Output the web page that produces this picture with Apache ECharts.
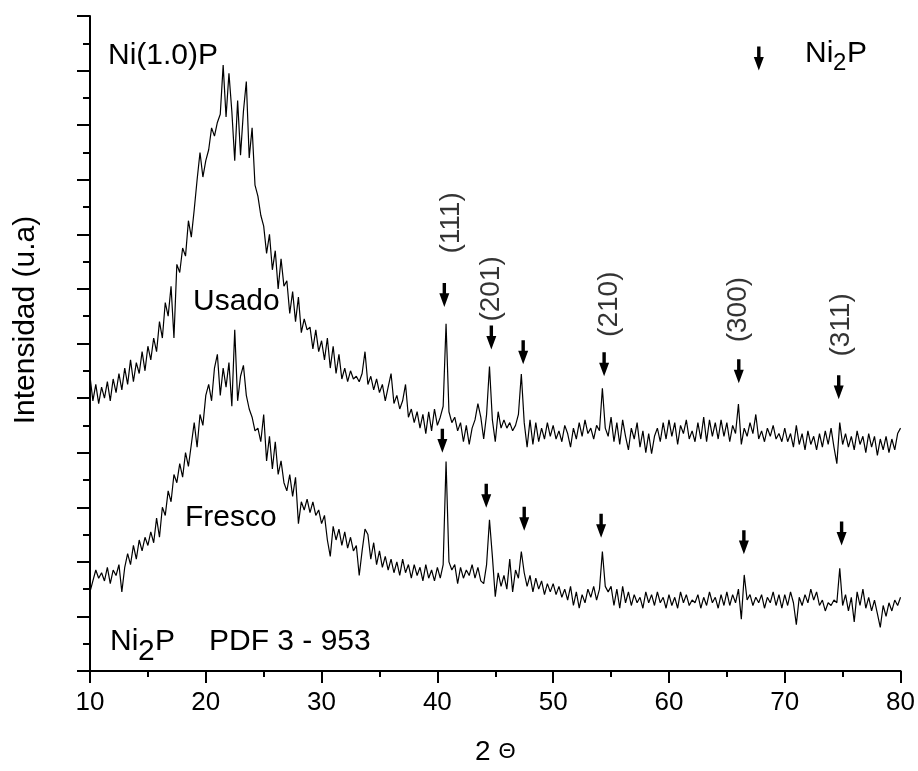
<!DOCTYPE html>
<html>
<head>
<meta charset="utf-8">
<script src="https://cdn.jsdelivr.net/npm/echarts@6/dist/echarts.min.js"></script>
<style>html,body{margin:0;padding:0;background:#fff}#chart{width:918px;height:771px}</style>
</head>
<body>
<div id="chart"></div>
<script>
// 2θ grid (degrees)
const twoTheta = [
10,10.25,10.5,10.75,11,11.25,11.5,11.75,12,12.25,12.5,12.75,13,13.25,13.5,13.75,14,14.25,14.5,14.75,
15,15.25,15.5,15.75,16,16.25,16.5,16.75,17,17.25,17.5,17.75,18,18.25,18.5,18.75,19,19.25,19.5,19.75,
20,20.25,20.5,20.75,21,21.25,21.5,21.75,22,22.25,22.5,22.75,23,23.25,23.5,23.75,24,24.25,24.5,24.75,
25,25.25,25.5,25.75,26,26.25,26.5,26.75,27,27.25,27.5,27.75,28,28.25,28.5,28.75,29,29.25,29.5,29.75,
30,30.25,30.5,30.75,31,31.25,31.5,31.75,32,32.25,32.5,32.75,33,33.25,33.5,33.75,34,34.25,34.5,34.75,
35,35.25,35.5,35.75,36,36.25,36.5,36.75,37,37.25,37.5,37.75,38,38.25,38.5,38.75,39,39.25,39.5,39.75,
40,40.25,40.5,40.75,41,41.25,41.5,41.75,42,42.25,42.5,42.75,43,43.25,43.5,43.75,44,44.25,44.5,44.75,
45,45.25,45.5,45.75,46,46.25,46.5,46.75,47,47.25,47.5,47.75,48,48.25,48.5,48.75,49,49.25,49.5,49.75,
50,50.25,50.5,50.75,51,51.25,51.5,51.75,52,52.25,52.5,52.75,53,53.25,53.5,53.75,54,54.25,54.5,54.75,
55,55.25,55.5,55.75,56,56.25,56.5,56.75,57,57.25,57.5,57.75,58,58.25,58.5,58.75,59,59.25,59.5,59.75,
60,60.25,60.5,60.75,61,61.25,61.5,61.75,62,62.25,62.5,62.75,63,63.25,63.5,63.75,64,64.25,64.5,64.75,
65,65.25,65.5,65.75,66,66.25,66.5,66.75,67,67.25,67.5,67.75,68,68.25,68.5,68.75,69,69.25,69.5,69.75,
70,70.25,70.5,70.75,71,71.25,71.5,71.75,72,72.25,72.5,72.75,73,73.25,73.5,73.75,74,74.25,74.5,74.75,
75,75.25,75.5,75.75,76,76.25,76.5,76.75,77,77.25,77.5,77.75,78,78.25,78.5,78.75,79,79.25,79.5,79.75,
80];

// Intensity (arbitrary units), "Usado" pattern
const usado = [
5.40,4.95,5.25,4.90,5.20,5.00,5.30,4.95,5.35,5.10,5.45,5.15,5.55,5.25,5.70,5.30,5.65,5.45,5.85,5.50,
5.95,5.70,6.10,5.85,6.40,6.10,6.75,6.50,7.05,6.10,7.45,7.30,7.75,7.60,8.25,7.95,8.45,9.00,9.50,9.05,
9.35,9.55,9.95,9.80,10.05,10.20,11.10,10.15,10.95,10.25,9.35,10.45,9.45,10.25,10.80,9.40,9.95,8.90,8.70,8.35,
8.15,7.65,8.00,7.35,7.70,7.00,7.55,7.05,7.15,6.55,6.95,6.40,6.85,6.20,6.45,6.25,6.30,5.90,6.25,5.85,
6.05,5.70,6.10,5.55,5.95,5.45,5.80,5.35,5.55,5.30,5.50,5.35,5.40,5.30,5.45,5.85,5.25,5.40,5.15,5.35,
5.10,5.25,4.95,5.20,5.45,4.90,5.05,4.80,4.95,5.25,4.65,4.80,4.55,4.75,4.45,4.70,4.35,4.75,4.40,4.80,
4.50,4.65,4.85,6.36,4.75,4.55,4.65,4.40,4.55,4.20,4.50,4.15,4.45,4.60,4.90,4.65,4.25,4.70,5.58,4.60,
4.20,4.75,4.45,4.60,4.45,4.55,4.40,4.50,4.70,5.44,4.55,4.10,4.60,4.15,4.55,4.20,4.45,4.25,4.55,4.30,
4.50,4.25,4.40,4.20,4.50,4.35,4.10,4.45,4.25,4.55,4.30,4.60,4.35,4.45,4.25,4.50,4.40,5.18,4.45,4.30,
4.65,4.20,4.55,4.15,4.60,4.30,4.05,4.45,4.25,4.55,4.10,4.40,4.00,4.35,3.98,4.30,4.45,4.20,4.55,4.25,
4.60,4.30,4.55,4.15,4.50,4.35,4.60,4.25,4.40,4.20,4.55,4.25,4.65,4.20,4.60,4.30,4.55,4.25,4.60,4.30,
4.55,4.20,4.50,4.35,4.89,4.15,4.45,4.30,4.55,4.35,4.70,4.25,4.40,4.20,4.45,4.30,4.50,4.25,4.35,4.20,
4.45,4.20,4.35,4.10,4.50,4.15,4.35,4.05,4.40,4.15,4.30,4.05,4.35,4.10,4.40,4.15,4.45,4.10,3.80,4.55,
4.15,4.35,4.10,4.30,4.05,4.40,4.15,4.30,4.00,4.35,4.10,4.30,3.95,4.25,4.05,4.30,4.00,4.25,4.05,4.35,
4.45];

// Intensity (arbitrary units), "Fresco" pattern
const fresco = [
1.45,1.65,1.85,1.70,1.80,1.65,1.90,1.60,1.85,1.75,1.95,1.45,1.90,2.15,1.95,2.30,2.05,2.40,2.20,2.45,
2.30,2.55,2.35,2.80,2.45,3.00,2.85,3.30,3.10,3.60,3.45,3.80,3.55,4.00,3.75,4.15,4.55,4.10,4.70,4.50,
5.05,5.25,4.95,5.55,5.80,5.05,5.55,5.20,5.65,4.85,6.25,4.95,5.40,5.60,5.05,4.80,4.65,4.40,4.45,4.20,
4.70,3.85,4.30,3.70,4.20,3.60,3.85,3.45,3.30,3.60,3.20,3.55,2.70,3.10,2.95,3.15,2.90,3.10,2.85,2.95,
2.70,2.85,2.40,2.10,2.65,2.40,2.60,2.30,2.55,2.25,2.45,2.20,2.30,1.75,2.20,2.60,2.50,2.05,2.35,1.95,
2.20,1.90,2.10,1.85,2.05,1.80,2.00,1.75,2.05,1.80,1.95,1.70,1.95,1.75,1.90,1.65,1.95,1.70,1.85,1.65,
1.90,1.70,1.95,3.84,2.00,1.85,1.95,1.60,1.90,1.70,1.85,1.75,1.95,1.70,1.90,1.65,1.60,1.95,2.77,2.10,
1.36,1.80,1.55,1.75,1.50,2.05,1.45,1.85,1.70,2.19,1.80,1.55,1.75,1.45,1.70,1.50,1.65,1.40,1.60,1.45,
1.60,1.40,1.55,1.35,1.50,1.30,1.55,1.20,1.45,1.15,1.40,1.25,1.50,1.35,1.55,1.30,1.50,2.19,1.55,1.45,
1.55,1.20,1.50,1.15,1.55,1.25,1.45,1.20,1.40,1.25,1.35,1.15,1.45,1.25,1.40,1.20,1.45,1.25,1.35,1.15,
1.40,1.20,1.35,1.15,1.45,1.25,1.40,1.20,1.30,1.25,1.40,1.15,1.35,1.20,1.45,1.25,1.35,1.15,1.40,1.20,
1.45,1.20,1.40,1.25,1.50,0.95,1.76,1.30,1.40,1.20,1.35,1.25,1.40,1.15,1.35,1.25,1.45,1.20,1.40,1.15,
1.40,1.20,1.45,1.25,0.85,1.35,1.20,1.40,1.25,1.50,1.30,1.45,1.20,1.30,1.10,1.25,1.20,1.30,1.25,1.88,
1.20,1.40,1.10,1.35,0.90,1.45,1.20,1.50,1.15,1.35,1.10,1.30,1.05,0.80,1.20,1.00,1.25,1.10,1.30,1.20,
1.35];

// Ni2P reflection markers (arrow centres, data coords)
const arrowUsadoX  = [40.60, 44.66, 47.41, 54.40, 66.03, 74.66];
const arrowUsadoY  = [6.89, 6.11, 5.84, 5.62, 5.49, 5.20];
const arrowFrescoX = [40.43, 44.22, 47.50, 54.14, 66.47, 74.91];
const arrowFrescoY = [4.22, 3.21, 2.79, 2.66, 2.36, 2.52];
const legendArrow  = [67.76, 11.22];

// Miller indices labels
const hklLabels = ['(111)', '(201)', '(210)', '(300)', '(311)'];
const hklX = [41.21, 44.66, 54.83, 66.03, 74.91];
const hklY = [8.21, 7.00, 6.72, 6.62, 6.34];

// Axis ticks
const xTicks = { min: 10, max: 80, interval: 10 };
const yTicks = { min: 0, max: 12, interval: 1 };

const FONT = 'Liberation Sans';
const arrowPath = 'path://M3.3,0 L6.7,0 L6.7,10 L10,10 L5,23 L0,10 L3.3,10 Z';

const chart = echarts.init(document.getElementById('chart'), null, { renderer: 'canvas' });

const axisLineStyle = { color: '#000', width: 2 };

// text placed by its baseline: convert to middle (cap-centre) alignment
function txt(text, x, baseline, size) {
  return {
    type: 'text', x: x, y: baseline - Math.round(size * 0.36), silent: true,
    style: {
      text: text, fill: '#000', font: size + 'px "' + FONT + '"',
      align: 'left', textAlign: 'left',
      verticalAlign: 'middle', textVerticalAlign: 'middle'
    }
  };
}

const option = {
  animation: false,
  backgroundColor: '#fff',
  grid: { left: 90, right: 16, top: 16, bottom: 93, containLabel: false },
  xAxis: {
    type: 'value', min: xTicks.min, max: xTicks.max, interval: xTicks.interval,
    axisLine: { show: true, lineStyle: axisLineStyle },
    axisTick: { show: true, inside: false, length: 12, lineStyle: axisLineStyle },
    minorTick: { show: true, splitNumber: 2, length: 6, lineStyle: axisLineStyle },
    splitLine: { show: false },
    axisLabel: { color: '#000', fontSize: 26, fontFamily: FONT, margin: 19 },
    name: '2 {t|Θ}', nameLocation: 'middle', nameGap: 67,
    nameTextStyle: { color: '#000', fontSize: 28, fontFamily: FONT,
      rich: { t: { fontSize: 22, fontFamily: FONT, color: '#000' } } }
  },
  yAxis: {
    type: 'value', min: yTicks.min, max: yTicks.max, interval: yTicks.interval,
    axisLine: { show: true, lineStyle: axisLineStyle },
    axisTick: { show: true, inside: false, length: 13, lineStyle: axisLineStyle },
    minorTick: { show: true, splitNumber: 2, length: 7, lineStyle: axisLineStyle },
    splitLine: { show: false },
    axisLabel: { show: false }
  },
  series: [
    {
      name: 'Usado', type: 'line', showSymbol: false, symbol: 'none', silent: true,
      lineStyle: { color: '#000', width: 1.2 },
      data: twoTheta.map((x, i) => [x, usado[i]])
    },
    {
      name: 'Fresco', type: 'line', showSymbol: false, symbol: 'none', silent: true,
      lineStyle: { color: '#000', width: 1.2 },
      data: twoTheta.map((x, i) => [x, fresco[i]])
    },
    {
      name: 'Ni2P markers', type: 'scatter', silent: true, z: 5,
      symbol: arrowPath, symbolSize: [10, 24],
      itemStyle: { color: '#000', opacity: 1 },
      data: arrowUsadoX.map((x, i) => [x, arrowUsadoY[i]])
        .concat(arrowFrescoX.map((x, i) => [x, arrowFrescoY[i]]))
        .concat([legendArrow])
    },
    {
      name: 'hkl', type: 'scatter', silent: true, z: 5,
      symbolSize: 0.01, itemStyle: { color: 'rgba(0,0,0,0)' },
      label: {
        show: true, position: 'inside', rotate: 90, color: '#000',
        fontSize: 28, fontFamily: FONT,
        formatter: p => hklLabels[p.dataIndex]
      },
      data: hklX.map((x, i) => [x, hklY[i]])
    }
  ],
  graphic: [
    txt('Ni(1.0)P', 108, 67, 30),
    txt('Usado', 193, 313, 30),
    txt('Fresco', 185, 529, 30),
    txt('Ni', 110, 653, 30),
    txt('2', 138, 663, 30),
    txt('P', 155, 653, 30),
    txt('PDF 3 - 953', 209, 653, 30),
    txt('Ni', 805, 65, 30),
    txt('2', 833, 72, 24),
    txt('P', 847, 65, 30),
    {
      type: 'text', x: 26, y: 320, rotation: Math.PI / 2, silent: true,
      style: { text: 'Intensidad (u.a)', fill: '#000', font: '30px "' + FONT + '"',
        align: 'center', textAlign: 'center', verticalAlign: 'middle', textVerticalAlign: 'middle' }
    }
  ]
};
chart.setOption(option);
</script>
</body>
</html>
